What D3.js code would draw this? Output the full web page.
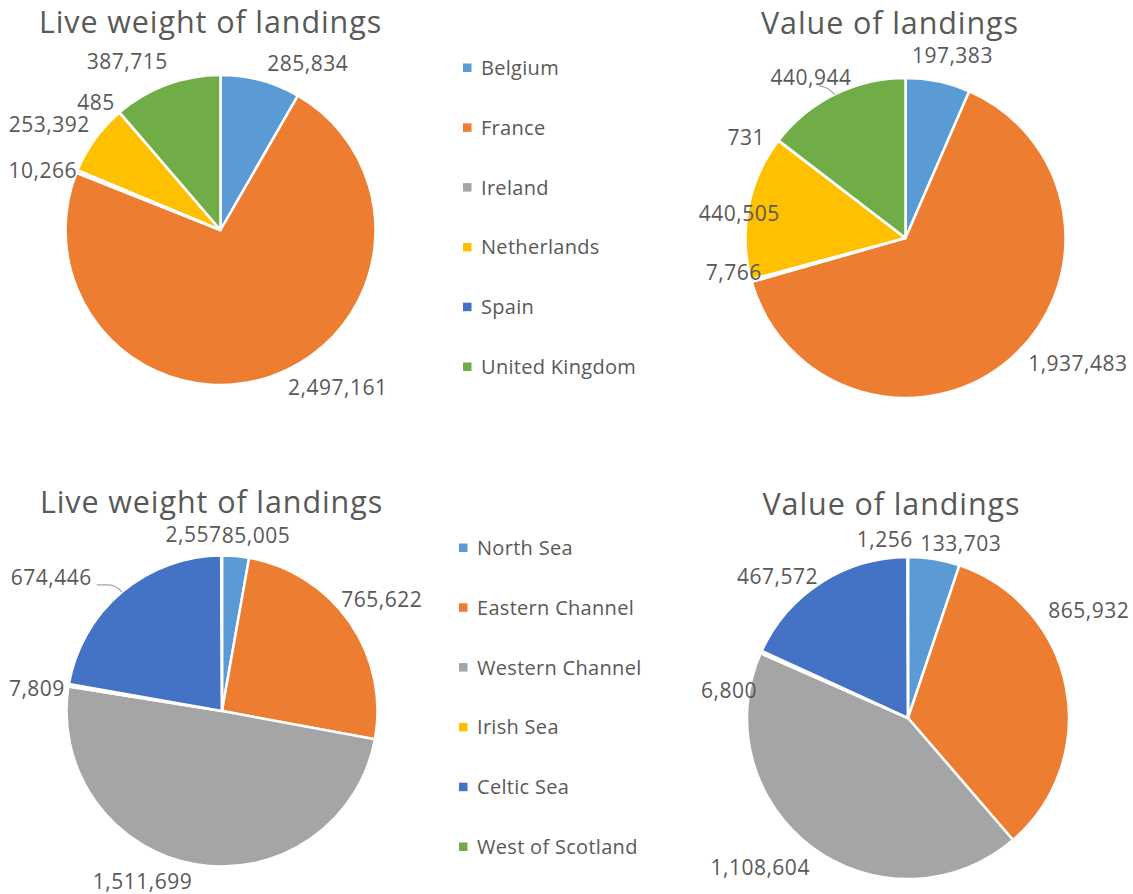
<!DOCTYPE html>
<html>
<head>
<meta charset="utf-8">
<script src="https://cdn.jsdelivr.net/npm/d3@7"></script>
<style>
  html, body { margin: 0; padding: 0; background: #ffffff; }
  svg { display: block; font-family: "Open Sans", "Noto Sans", sans-serif; }
</style>
</head>
<body>
<svg id="chart" width="1133" height="894"></svg>
<script>
// Landings by country and by sea area
const countries = ["Belgium", "France", "Ireland", "Netherlands", "Spain", "United Kingdom"];
const countryWeight = [285834, 2497161, 10266, 253392, 485, 387715];
const countryValue = [197383, 1937483, 7766, 440505, 731, 440944];

const areas = ["North Sea", "Eastern Channel", "Western Channel", "Irish Sea", "Celtic Sea", "West of Scotland"];
const areaWeight = [85005, 765622, 1511699, 7809, 674446, 2557];
const areaValue = [133703, 865932, 1108604, 6800, 467572, 1256];

const titleWeight = "Live weight of landings";
const titleValue = "Value of landings";

const colors = ["#5B9BD5", "#ED7D31", "#A5A5A5", "#FFC000", "#4472C4", "#70AD47"];
const textColor = "#595959";
const fmt = d3.format(",");

const svg = d3.select("#chart");

// Panel layout: pie centre / radius, title placement, per-label shifts that
// keep neighbouring value labels apart, and which labels get a leader line.
const panels = [
  { title: titleWeight, names: countries, values: countryWeight,
    cx: 220.5, cy: 230, r: 155, tx: 210.5, ty: 33,
    shift: [[3, 6], [12, -12], [13, 8], [6, 0], [4.5, 8], [6, -1]],
    leader: {} },
  { title: titleValue, names: countries, values: countryValue,
    cx: 905.5, cy: 238, r: 160, tx: 890, ty: 34,
    shift: [[-29, -2], [8, -13], [24, -15], [45, 11], [-2.5, 11], [23, 5]],
    leader: { 5: "bottom" } },
  { title: titleWeight, names: areas, values: areaWeight,
    cx: 222, cy: 711, r: 155.5, tx: 211.5, ty: 513,
    shift: [[-15, 3], [-20, -9], [-1, -6], [10, 7], [-21, 4], [0, 3.5]],
    leader: { 4: "side" } },
  { title: titleValue, names: areas, values: areaValue,
    cx: 908, cy: 718, r: 161, tx: 891.5, ty: 515,
    shift: [[-16, 8], [-31.5, -72], [6, 1], [8.6, 48], [4.7, 13.6], [5, 7]],
    leader: {} }
];

const legends = [
  { names: countries, sx: 463, tx: 481, y0: 68 },
  { names: areas, sx: 459, tx: 477, y0: 548 }
];

const labelSize = 21;
const pie = d3.pie().sort(null).value(d => d.value);

panels.forEach(p => {
  const g = svg.append("g");
  const arcs = pie(p.names.map((n, i) => ({ name: n, value: p.values[i], i })));
  const arc = d3.arc().innerRadius(0).outerRadius(p.r);

  g.append("text")
    .attr("x", p.tx).attr("y", p.ty)
    .attr("text-anchor", "middle")
    .attr("fill", textColor)
    .attr("font-size", 30.5)
    .attr("letter-spacing", 0.9)
    .text(p.title);

  g.append("g")
    .attr("transform", `translate(${p.cx},${p.cy})`)
    .selectAll("path")
    .data(arcs)
    .join("path")
    .attr("d", arc)
    .attr("fill", d => colors[d.data.i])
    .attr("stroke", "#ffffff")
    .attr("stroke-width", 2.5)
    .attr("stroke-linejoin", "round");

  // value labels sit just outside the rim at each slice's mid angle
  const R = p.r + 14;
  arcs.forEach((d, i) => {
    const a = (d.startAngle + d.endAngle) / 2;
    const s = Math.sin(a), c = Math.cos(a);
    const x = p.cx + s * R + p.shift[i][0];
    const yc = p.cy - c * R - c * 10 + p.shift[i][1];
    const t = g.append("text")
      .attr("x", x)
      .attr("y", yc + 0.357 * labelSize)
      .attr("text-anchor", s >= 0 ? "start" : "end")
      .attr("fill", textColor)
      .attr("font-size", labelSize)
      .attr("letter-spacing", 0.5)
      .text(fmt(d.data.value));

    const kind = p.leader[i];
    if (kind) {
      const bb = t.node().getBBox();
      const ex = p.cx + s * p.r, ey = p.cy - c * p.r;
      const path = d3.path();
      if (kind === "side") {
        const sx = bb.x + bb.width + 5, sy = yc + 7;
        path.moveTo(sx, sy);
        path.lineTo(sx + 12, sy);
        path.quadraticCurveTo(sx + 19, sy, ex, ey);
      } else {
        const sx = bb.x + bb.width * 0.6, sy = yc + 8;
        path.moveTo(sx, sy);
        path.quadraticCurveTo(sx + 7, sy, ex, ey);
      }
      g.append("path")
        .attr("d", path.toString())
        .attr("fill", "none")
        .attr("stroke", "#A6A6A6")
        .attr("stroke-width", 1.2);
    }
  });
});

legends.forEach(L => {
  const step = 59.8;
  const g = svg.append("g");
  L.names.forEach((n, i) => {
    const y = L.y0 + i * step;
    g.append("rect")
      .attr("x", L.sx).attr("y", y - 4.5)
      .attr("width", 8.5).attr("height", 8.5)
      .attr("fill", colors[i]);
    g.append("text")
      .attr("x", L.tx).attr("y", y + 7)
      .attr("fill", textColor)
      .attr("font-size", 20)
      .attr("letter-spacing", 0.3)
      .text(n);
  });
});
</script>
</body>
</html>
